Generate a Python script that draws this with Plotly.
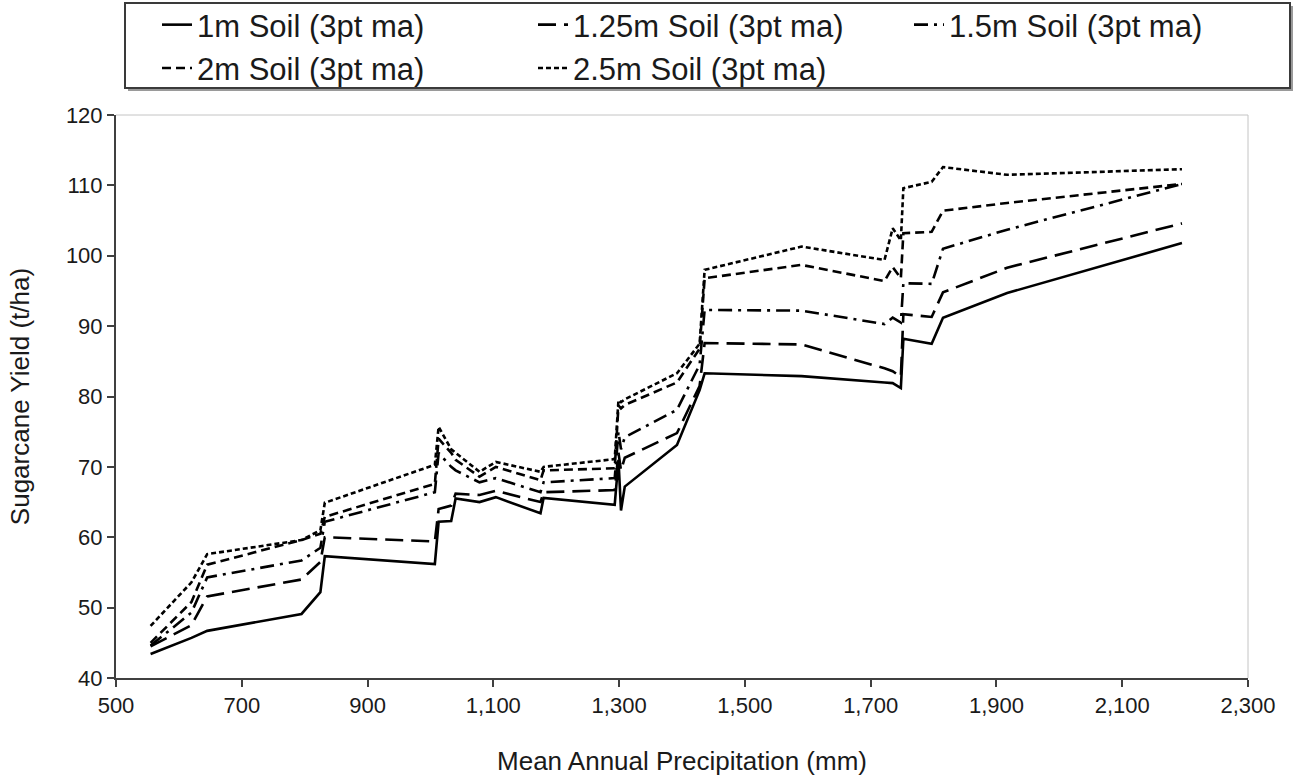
import plotly.graph_objects as go

# Mean annual precipitation (mm) – shared x positions
precip = [555, 620, 645, 795, 825, 832, 1007, 1013, 1033, 1040, 1078, 1104, 1175, 1180,
          1293, 1299, 1303, 1309, 1392, 1428, 1436, 1590, 1722, 1735, 1748, 1752, 1797,
          1815, 1917, 2195]

# Sugarcane yield (t/ha), 3-point moving averages
soil_1m = [43.4, 45.7, 46.7, 49.1, 52.2, 57.3, 56.2, 62.2, 62.3, 65.5, 65.0, 65.7, 63.4, 65.6,
           64.6, 71.0, 63.8, 67.2, 73.1, 80.9, 83.3, 82.9, 82.0, 81.9, 81.2, 88.2, 87.5,
           91.2, 94.7, 101.8]
soil_125m = [44.5, 47.5, 51.6, 54.0, 56.5, 60.0, 59.4, 64.0, 64.5, 66.2, 66.0, 66.6, 65.0, 66.4,
             66.7, 72.0, 69.5, 71.3, 74.8, 81.5, 87.6, 87.4, 84.0, 83.6, 82.8, 91.7, 91.3,
             94.8, 98.3, 104.6]
soil_15m = [44.6, 49.3, 54.3, 56.7, 58.5, 62.2, 66.4, 72.0, 70.0, 69.5, 67.8, 68.4, 66.4, 67.8,
            68.4, 75.0, 72.5, 74.2, 78.1, 84.5, 92.3, 92.2, 90.3, 91.2, 90.5, 96.1, 96.0,
            101.0, 103.7, 110.2]
soil_2m = [45.0, 50.8, 56.1, 59.6, 60.5, 62.9, 67.6, 74.0, 72.0, 71.0, 68.6, 70.0, 68.1, 69.5,
           69.8, 78.7, 78.3, 78.8, 82.0, 86.8, 96.8, 98.7, 96.4, 98.4, 96.8, 103.2, 103.4,
           106.4, 107.5, 110.2]
soil_25m = [47.4, 53.6, 57.6, 59.6, 61.0, 64.9, 70.3, 75.7, 72.5, 72.0, 69.3, 70.7, 69.3, 70.0,
            71.1, 79.5, 79.2, 79.6, 83.3, 87.5, 98.0, 101.3, 99.4, 103.9, 102.2, 109.6, 110.5,
            112.6, 111.5, 112.3]

series_names = ["1m Soil (3pt ma)", "1.25m Soil (3pt ma)", "1.5m Soil (3pt ma)",
                "2m Soil (3pt ma)", "2.5m Soil (3pt ma)"]
series_values = [soil_1m, soil_125m, soil_15m, soil_2m, soil_25m]
dashes = ["solid", "18px,8px", "14px,6px,3px,6px", "9px,5px", "5px,3px"]

x_ticks = list(range(500, 2301, 200))

fig = go.Figure()
for name, vals, dash in zip(series_names, series_values, dashes):
    fig.add_trace(go.Scatter(x=precip, y=vals, mode="lines", name=name,
                             line=dict(color="black", width=2.6, dash=dash)))

# plot area in px: x 116..1248, y 115..678
PX_L, PX_R, PX_T, PX_B = 116, 1248, 115, 678
W, H = PX_R - PX_L, PX_B - PX_T
def px(xp):
    return (xp - PX_L) / W
def py(yp):
    return (PX_B - yp) / H

shapes = [
    # legend box shadow + box
    dict(type="rect", xref="paper", yref="paper", x0=px(128), x1=px(1293), y0=py(91), y1=py(6),
         line=dict(width=0), fillcolor="#9a9a9a", layer="below"),
    dict(type="rect", xref="paper", yref="paper", x0=px(125), x1=px(1290), y0=py(88), y1=py(3),
         line=dict(color="#3a3a3a", width=2), fillcolor="white", layer="below"),
    # top and right plot border
    dict(type="line", xref="paper", yref="paper", x0=0, x1=1, y0=1, y1=1,
         line=dict(color="#c4c4c4", width=1)),
    dict(type="line", xref="paper", yref="paper", x0=1, x1=1, y0=0, y1=1,
         line=dict(color="#c4c4c4", width=1)),
]

fig.update_layout(
    width=1299, height=781,
    margin=dict(l=PX_L, r=1299 - PX_R, t=PX_T, b=781 - PX_B, autoexpand=False),
    paper_bgcolor="white", plot_bgcolor="white",
    font=dict(family="Arial, Liberation Sans, sans-serif", color="#1a1a1a", size=22),
    shapes=shapes,
    showlegend=True,
    legend=dict(orientation="h", x=px(157), y=py(-2), xanchor="left", yanchor="top",
                entrywidth=331, entrywidthmode="pixels",
                font=dict(size=31, color="#1a1a1a"), bgcolor="rgba(0,0,0,0)",
                borderwidth=0, itemwidth=30, traceorder="normal"),
    xaxis=dict(range=[500, 2300], tickvals=x_ticks, tickformat=",", showgrid=False,
               zeroline=False, showline=True, linecolor="#404040", linewidth=2,
               ticks="outside", ticklen=7, tickwidth=2, tickcolor="#404040",
               tickfont=dict(size=22), automargin=False,
               title=dict(text="Mean Annual Precipitation (mm)", font=dict(size=26), standoff=34)),
    yaxis=dict(range=[40, 120], dtick=10, showgrid=False, zeroline=False, showline=True,
               linecolor="#404040", linewidth=2, ticks="outside", ticklen=7, tickwidth=2,
               tickcolor="#404040", tickfont=dict(size=22), automargin=False,
               title=dict(text="Sugarcane Yield (t/ha)", font=dict(size=26), standoff=29)),
)

fig.write_html("out.html")
